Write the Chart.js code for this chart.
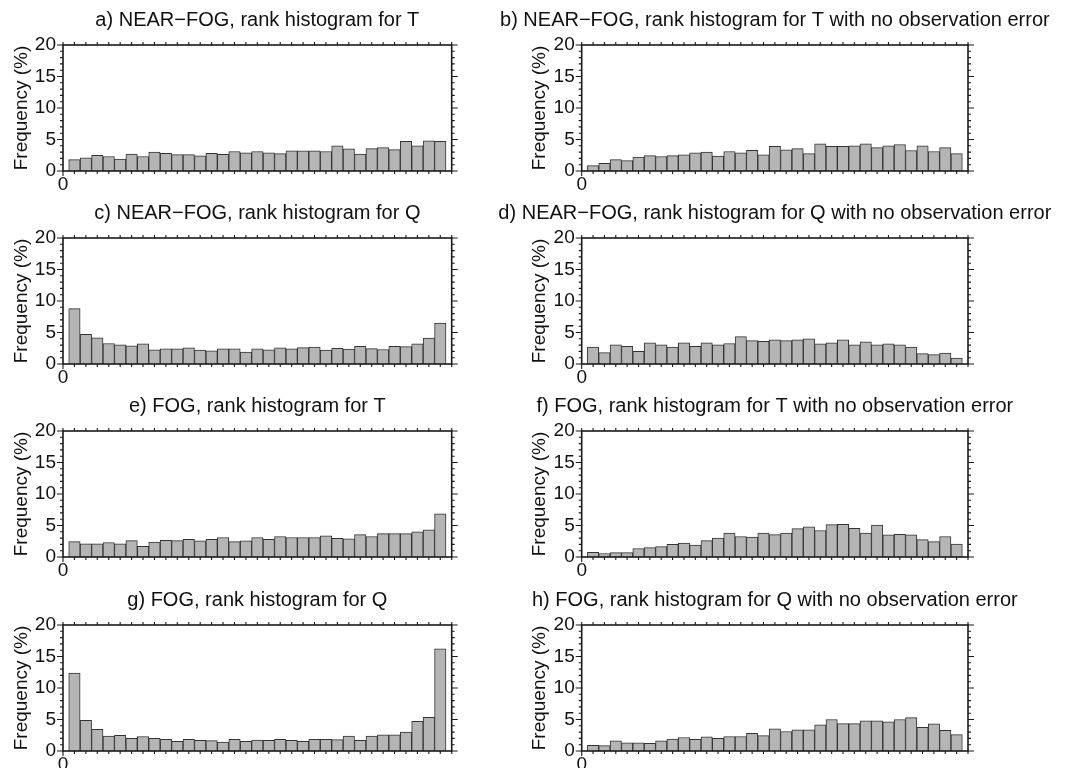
<!DOCTYPE html>
<html><head><meta charset="utf-8">
<script src="https://cdn.jsdelivr.net/npm/chart.js@4.4.1/dist/chart.umd.min.js"></script>
<style>
html,body{margin:0;padding:0;background:#fff;width:1077px;height:768px;overflow:hidden;}
canvas{position:absolute;display:block;}
</style></head><body>
<script>
// ---------- data ----------
const ranks = [1,2,3,4,5,6,7,8,9,10,11,12,13,14,15,16,17,18,19,20,21,22,23,24,25,26,27,28,29,30,31,32,33];

const titles = [
  'a) NEAR\u2212FOG, rank histogram for T',
  'b) NEAR\u2212FOG, rank histogram for T with no observation error',
  'c) NEAR\u2212FOG, rank histogram for Q',
  'd) NEAR\u2212FOG, rank histogram for Q with no observation error',
  'e) FOG, rank histogram for T',
  'f) FOG, rank histogram for T with no observation error',
  'g) FOG, rank histogram for Q',
  'h) FOG, rank histogram for Q with no observation error'
];

const yAxisLabel = 'Frequency (%)';
const xTickLabel = '0';

const nearFogT      = [1.8,2.1,2.5,2.3,1.9,2.7,2.3,3.0,2.8,2.6,2.6,2.4,2.8,2.65,3.1,2.9,3.1,2.9,2.75,3.2,3.2,3.2,3.1,4.0,3.5,2.7,3.55,3.7,3.4,4.7,4.0,4.8,4.7];
const nearFogTNoObs = [0.85,1.2,1.8,1.65,2.2,2.45,2.3,2.45,2.55,2.9,3.0,2.35,3.1,2.9,3.3,2.55,3.9,3.35,3.55,2.75,4.3,3.9,3.9,4.0,4.3,3.7,4.0,4.2,3.25,4.0,3.1,3.7,2.75];
const nearFogQ      = [8.8,4.7,4.15,3.25,3.05,2.9,3.2,2.25,2.4,2.4,2.55,2.2,2.1,2.4,2.4,1.9,2.4,2.25,2.55,2.4,2.6,2.7,2.2,2.5,2.35,2.8,2.45,2.3,2.8,2.75,3.2,4.1,6.5];
const nearFogQNoObs = [2.7,1.8,3.05,2.8,2.0,3.35,3.05,2.7,3.35,2.8,3.35,3.05,3.25,4.35,3.7,3.6,3.85,3.7,3.85,4.0,3.2,3.35,3.85,3.05,3.5,3.05,3.2,3.05,2.7,1.65,1.5,1.75,0.95];
const fogT          = [2.45,2.1,2.1,2.3,2.1,2.6,1.7,2.35,2.65,2.6,2.8,2.55,2.8,3.1,2.45,2.55,3.1,2.8,3.25,3.1,3.1,3.1,3.35,2.95,2.9,3.55,3.25,3.7,3.7,3.7,4.0,4.3,6.85];
const fogTNoObs     = [0.75,0.55,0.7,0.7,1.35,1.5,1.65,2.0,2.2,1.9,2.6,3.0,3.8,3.25,3.15,3.8,3.55,3.8,4.5,4.8,4.2,5.15,5.2,4.55,3.8,5.05,3.5,3.6,3.5,2.75,2.45,3.25,2.05];
const fogQ          = [12.35,4.85,3.45,2.35,2.5,2.0,2.3,2.0,1.85,1.55,1.85,1.7,1.65,1.4,1.85,1.55,1.75,1.7,1.85,1.7,1.55,1.85,1.85,1.8,2.35,1.7,2.35,2.55,2.55,3.0,4.7,5.35,16.2];
const fogQNoObs     = [0.9,0.85,1.6,1.3,1.3,1.2,1.6,1.9,2.15,1.85,2.25,2.0,2.3,2.3,2.8,2.45,3.5,3.1,3.35,3.35,4.15,5.0,4.35,4.35,4.8,4.8,4.65,5.0,5.3,3.75,4.3,3.3,2.6];

// ---------- layout / style ----------
const FONT = '"Liberation Sans", Arial, Helvetica, sans-serif';
const TEXT = '#111';
const series = [nearFogT, nearFogTNoObs, nearFogQ, nearFogQNoObs, fogT, fogTNoObs, fogQ, fogQNoObs];
const colLayout = [
  {left: 0,   width: 530, axisW: 63,    padR: 15.3, yTitlePad: 12},
  {left: 480, width: 597, axisW: 101.7, padR: 7.3,  yTitlePad: 50.5}
];
const rowTops = [0, 193, 386, 580];
const CANVAS_H = 193;

const frameTicks = {
  id: 'frameTicks',
  afterDraw(chart) {
    const {ctx, chartArea: a, scales: {x, y}} = chart;
    ctx.save();
    ctx.strokeStyle = '#1a1a1a';
    ctx.lineWidth = 1.1;
    ctx.beginPath();
    for (let v = y.min; v <= y.max; v += 1) {
      const py = y.getPixelForValue(v);
      const len = (v % 5 === 0) ? 6 : 3;
      ctx.moveTo(a.left - len, py); ctx.lineTo(a.left, py);
      ctx.moveTo(a.right, py); ctx.lineTo(a.right + len, py);
    }
    for (let v = x.min; v <= x.max; v += 1) {
      const px = x.getPixelForValue(v);
      const len = (v === 0) ? 5 : 3;
      ctx.moveTo(px, a.top - 3); ctx.lineTo(px, a.top);
      ctx.moveTo(px, a.bottom); ctx.lineTo(px, a.bottom + len);
    }
    ctx.stroke();
    ctx.lineWidth = 1.6;
    ctx.strokeRect(a.left, a.top, a.right - a.left, a.bottom - a.top);
    ctx.restore();
  }
};

series.forEach((vals, i) => {
  const col = colLayout[i % 2];
  const top = rowTops[Math.floor(i / 2)];
  const cv = document.createElement('canvas');
  cv.width = col.width; cv.height = CANVAS_H;
  cv.style.left = col.left + 'px'; cv.style.top = top + 'px';
  cv.style.width = col.width + 'px'; cv.style.height = CANVAS_H + 'px';
  document.body.appendChild(cv);

  new Chart(cv, {
    type: 'bar',
    data: {
      datasets: [{
        data: ranks.map((r, k) => ({x: r, y: vals[k]})),
        backgroundColor: '#b5b5b5',
        borderColor: '#333',
        borderWidth: 1,
        borderSkipped: 'start',
        barPercentage: 1,
        categoryPercentage: 1
      }]
    },
    options: {
      responsive: false,
      animation: false,
      devicePixelRatio: 1,
      layout: {padding: {left: 0, right: col.padR, top: 0, bottom: 0}},
      plugins: {
        legend: {display: false},
        tooltip: {enabled: false},
        title: {
          display: true, text: titles[i], color: TEXT,
          font: {family: FONT, size: 20, weight: 'normal', lineHeight: 1.2},
          padding: {top: 8, bottom: 13}
        }
      },
      scales: {
        x: {
          type: 'linear', min: 0, max: 34, offset: false,
          grid: {display: false, drawTicks: false}, border: {display: false},
          ticks: {stepSize: 1, autoSkip: false, maxRotation: 0, padding: 2, color: TEXT,
                  font: {family: FONT, size: 19},
                  callback: v => (v === 0 ? xTickLabel : '')},
          afterFit: s => { s.height = 22; }
        },
        y: {
          type: 'linear', position: 'left', min: 0, max: 20,
          grid: {display: false, drawTicks: false}, border: {display: false},
          ticks: {stepSize: 5, padding: 7, color: TEXT, font: {family: FONT, size: 19}},
          title: {display: true, text: yAxisLabel, color: TEXT,
                  font: {family: FONT, size: 19, lineHeight: 1.0},
                  padding: {top: col.yTitlePad, bottom: 0}},
          afterFit: s => { s.width = col.axisW; }
        },
        y2: {
          type: 'linear', position: 'right', min: 0, max: 20, display: true,
          grid: {display: false, drawTicks: false}, border: {display: false},
          ticks: {display: false},
          afterFit: s => { s.width = col.axisW; }
        }
      }
    },
    plugins: [frameTicks]
  });
});
</script>
</body></html>
